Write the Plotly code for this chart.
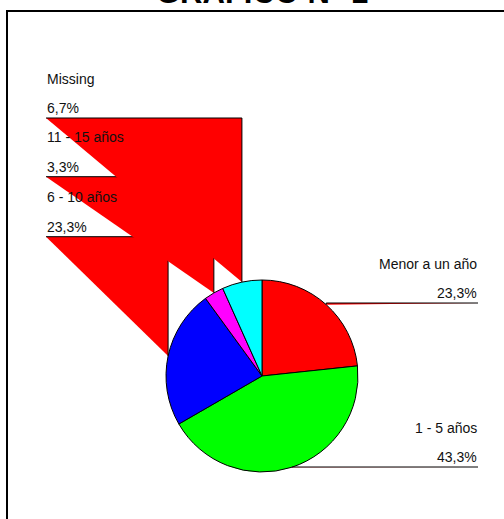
import math
import plotly.graph_objects as go

# --- data -------------------------------------------------------------
categories = ["Menor a un año", "1 - 5 años", "6 - 10 años", "11 - 15 años", "Missing"]
percentages = [23.3, 43.3, 23.3, 3.3, 6.7]
slice_colors = ["#FF0000", "#00FF00", "#0000FF", "#FF00FF", "#00FFFF"]
label_sides = ["right", "right", "left", "left", "left"]
title_text = "GRAFICO N° 1"

# --- layout constants (pixel space) -----------------------------------
W, H = 504, 519
CX, CY, R = 262, 376, 96          # pie centre and radius
LEFT_X, RIGHT_X = 46, 478         # where label rules start / end
label_rule_y = [303, 467, 236.7, 176.7, 118]
FONT = "Liberation Sans, Arial, sans-serif"


def fmt_pct(v):
    return f"{v:.1f}".replace(".", ",") + "%"


fig = go.Figure()

# invisible carrier so the pixel-space axes exist
fig.add_trace(go.Scatter(x=[], y=[], hoverinfo="skip", showlegend=False))

fig.add_trace(go.Pie(
    labels=categories,
    values=percentages,
    sort=False,
    direction="clockwise",
    rotation=0,
    marker=dict(colors=slice_colors, line=dict(color="black", width=1)),
    textinfo="none",
    hoverinfo="skip",
    showlegend=False,
    domain=dict(x=[(CX - R) / W, (CX + R) / W],
                y=[1 - (CY + R) / H, 1 - (CY - R) / H]),
))

shapes = []
annotations = []

# frame around the chart
shapes.append(dict(type="rect", xref="x", yref="y", x0=7, y0=11, x1=517, y1=540,
                   line=dict(color="black", width=2), fillcolor="rgba(0,0,0,0)"))

total = sum(percentages)
cum = 0.0
for name, val, side, ly in zip(categories, percentages, label_sides, label_rule_y):
    mid = (cum + val / 2) / total * 2 * math.pi
    cum += val
    px = CX + R * math.sin(mid)
    py = CY - R * math.cos(mid)
    ex = LEFT_X if side == "left" else RIGHT_X

    # filled leader wedge
    shapes.append(dict(type="path", xref="x", yref="y",
                       path=f"M {ex},{ly} L {px},{ly} L {px},{py} Z",
                       fillcolor="#FF0000", line=dict(width=0)))
    # leader line
    shapes.append(dict(type="path", xref="x", yref="y",
                       path=f"M {ex},{ly} L {px},{ly} L {px},{py}",
                       fillcolor="rgba(0,0,0,0)", line=dict(color="black", width=1)))

    anchor = "left" if side == "left" else "right"
    tx = ex - 1 if side == "left" else ex + 1
    annotations.append(dict(x=tx, y=ly - 39.5, xref="x", yref="y", text=name,
                            showarrow=False, xanchor=anchor, yanchor="middle",
                            font=dict(family=FONT, size=14, color="#111111")))
    annotations.append(dict(x=tx, y=ly - 10, xref="x", yref="y", text=fmt_pct(val),
                            showarrow=False, xanchor=anchor, yanchor="middle",
                            font=dict(family=FONT, size=14, color="#111111")))

# heading
annotations.append(dict(x=CX, y=12.5, xref="x", yref="y", text=f"<b>{title_text}</b>",
                        showarrow=False, xanchor="center", yanchor="bottom",
                        font=dict(family=FONT, size=31, color="black")))

fig.update_layout(
    width=W, height=H,
    margin=dict(l=0, r=0, t=0, b=0),
    paper_bgcolor="white", plot_bgcolor="rgba(0,0,0,0)",
    xaxis=dict(range=[0, W], visible=False, fixedrange=True),
    yaxis=dict(range=[H, 0], visible=False, fixedrange=True),
    shapes=shapes,
    annotations=annotations,
    hovermode=False,
    showlegend=False,
)

fig.write_html("out.html")
